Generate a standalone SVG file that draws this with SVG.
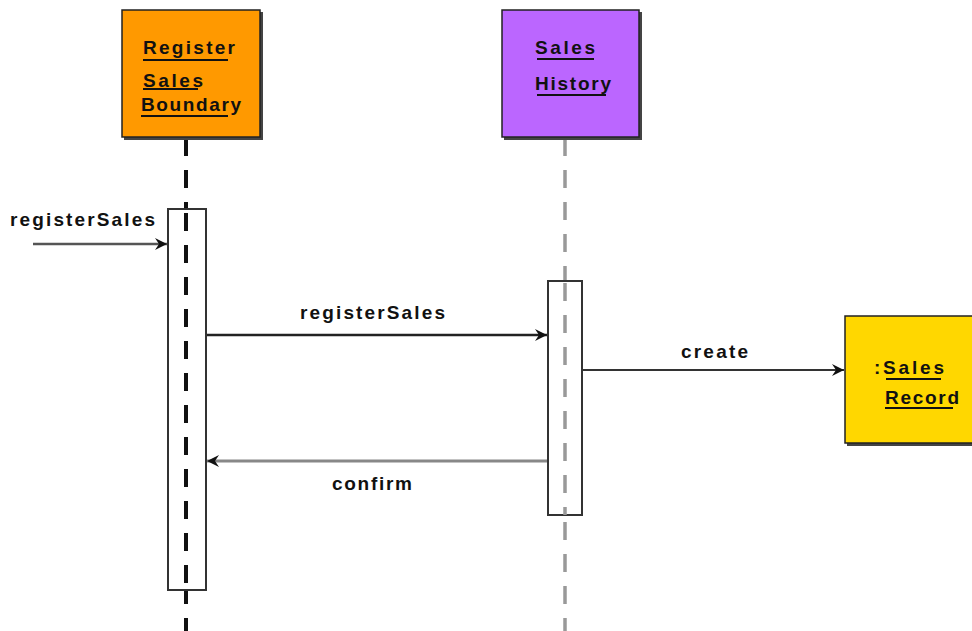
<svg xmlns="http://www.w3.org/2000/svg" width="972" height="631" viewBox="0 0 972 631">
<style>
.box{stroke:#222;stroke-width:1.5}
.shadow{fill:#444}
.nt{font-family:"Liberation Sans",Arial,sans-serif;font-weight:bold;font-size:19px;fill:#111}
.ul{stroke:#111;stroke-width:2}
.ml{font-family:"Liberation Sans",Arial,sans-serif;font-weight:bold;font-size:19px;fill:#111}
.act{fill:#fff;stroke:#333;stroke-width:2}
</style>
<defs>
<marker id="ah" viewBox="0 0 14 14" refX="13" refY="7" markerWidth="14" markerHeight="14" markerUnits="userSpaceOnUse" orient="auto">
<path d="M1,1 L13,7 L1,13 L5,7 Z" fill="#111"/>
</marker>
</defs>
<g id="lifelines">
<line x1="186" y1="138" x2="186" y2="631" stroke="#111" stroke-width="4" stroke-dasharray="18,14"/>
<line x1="565" y1="138" x2="565" y2="631" stroke="#999" stroke-width="3.5" stroke-dasharray="18,14"/>
</g>
<g id="node-boundary">
<rect class="shadow" x="124" y="12" width="139" height="128"/>
<rect class="box" x="122" y="10" width="138" height="127" fill="#FF9900"/>
<text class="nt" x="143" y="54" textLength="92" lengthAdjust="spacing">Register</text>
<line class="ul" x1="143" y1="60" x2="228" y2="60"/>
<text class="nt" x="143" y="87" textLength="60" lengthAdjust="spacing">Sales</text>
<line class="ul" x1="143" y1="89" x2="198" y2="89"/>
<text class="nt" x="141" y="111" textLength="100" lengthAdjust="spacing">Boundary</text>
<line class="ul" x1="141" y1="116" x2="228" y2="116"/>
</g>
<g id="node-history">
<rect class="shadow" x="504" y="12" width="138" height="128"/>
<rect class="box" x="502" y="10" width="137" height="127" fill="#BB66FF"/>
<text class="nt" x="535" y="54" textLength="60" lengthAdjust="spacing">Sales</text>
<line class="ul" x1="537" y1="59" x2="594" y2="59"/>
<text class="nt" x="535" y="90" textLength="76" lengthAdjust="spacing">History</text>
<line class="ul" x1="537" y1="95" x2="606" y2="95"/>
</g>
<g id="node-record">
<rect class="shadow" x="847" y="318" width="127" height="128"/>
<rect class="box" x="845" y="316" width="128" height="127" fill="#FFD700"/>
<text class="nt" x="874" y="374" textLength="70" lengthAdjust="spacing">:Sales</text>
<line class="ul" x1="886" y1="379" x2="941" y2="379"/>
<text class="nt" x="885" y="404" textLength="74" lengthAdjust="spacing">Record</text>
<line class="ul" x1="885" y1="408" x2="953" y2="408"/>
</g>
<g id="activations">
<rect class="act" x="168" y="209" width="38" height="381"/>
<rect class="act" x="548" y="281" width="34" height="234" stroke="#666"/>
<line x1="186" y1="209" x2="186" y2="590" stroke="#111" stroke-width="4" stroke-dasharray="18,14" stroke-dashoffset="-4"/>
<line x1="565" y1="281" x2="565" y2="515" stroke="#999" stroke-width="3.5" stroke-dasharray="18,14" stroke-dashoffset="-2"/>
</g>
<g id="connectors">
<line x1="33" y1="244" x2="167" y2="244" stroke="#555" stroke-width="2.5" marker-end="url(#ah)"/>
<text class="ml" x="10" y="226" textLength="145" lengthAdjust="spacing">registerSales</text>
<line x1="207" y1="335" x2="547" y2="335" stroke="#222" stroke-width="2.5" marker-end="url(#ah)"/>
<text class="ml" x="300" y="319" textLength="145" lengthAdjust="spacing">registerSales</text>
<line x1="583" y1="370" x2="844" y2="370" stroke="#333" stroke-width="2" marker-end="url(#ah)"/>
<text class="ml" x="681" y="358" textLength="67" lengthAdjust="spacing">create</text>
<line x1="547" y1="461" x2="207" y2="461" stroke="#888" stroke-width="3" marker-end="url(#ah)"/>
<text class="ml" x="332" y="490" textLength="80" lengthAdjust="spacing">confirm</text>
</g>
</svg>
